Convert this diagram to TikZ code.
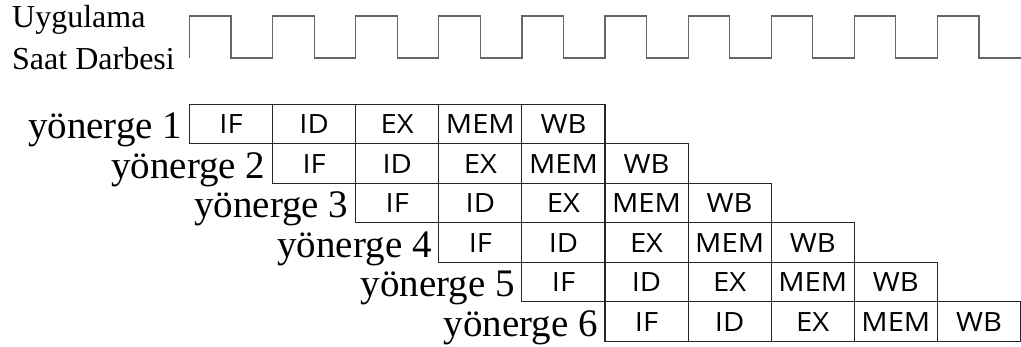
\documentclass[tikz,border=0pt]{standalone}
\usepackage{fontspec}
\setmainfont{Liberation Serif}
\newfontfamily\stagefont[FakeStretch=1.1]{Open Sans}
\usetikzlibrary{positioning}
\tikzset{x=1pt, y=-1pt, % pixel units, y grows downwards
node distance=0pt, % stage boxes touch each other
stagebox/.style={draw=black!85, line width=1.1pt, minimum width=83.1pt, minimum height=39.5pt, inner sep=0pt, outer sep=0pt, font=\stagefont\fontsize{26.5}{26.5}\selectfont}, % one pipeline stage
rowlabel/.style={inner sep=0pt, font=\fontsize{39}{39}\selectfont}, % instruction name
clocklabel/.style={inner sep=0pt, font=\fontsize{32}{32}\selectfont}, % clock caption
clockline/.style={draw=black!60, line width=1.2pt}, % clock waveform
}
\begin{document}
\begin{tikzpicture}
    \useasboundingbox (0,0) rectangle (1021,347);
    % clock
    \node[clocklabel, anchor=base west] (clk1) at (12,28) {Uygulama};
    \node[clocklabel, anchor=base west] (clk2) at (12,70) {Saat Darbesi};
    \coordinate (wave) at (189.5,58);
    \draw[clockline] (wave) \foreach \k in {0,...,9} { -- ++(0,-42) -- ++(41.55,0) -- ++(0,42) -- ++(41.55,0) };
    % pipeline
    \foreach \i in {1,...,6} {
        \node[stagebox] (r\i-1) at ({231.05+(\i-1)*83.1}, {124.05+(\i-1)*39.5}) {IF};
        \node[stagebox, right=of r\i-1] (r\i-2) {ID};
        \node[stagebox, right=of r\i-2] (r\i-3) {EX};
        \node[stagebox, right=of r\i-3] (r\i-4) {MEM};
        \node[stagebox, right=of r\i-4] (r\i-5) {WB};
        \node[rowlabel, anchor=base east] (lbl\i) at ([xshift=-7pt, yshift=5pt]r\i-1.south west) {yönerge \i};
    }
\end{tikzpicture}
\end{document}
